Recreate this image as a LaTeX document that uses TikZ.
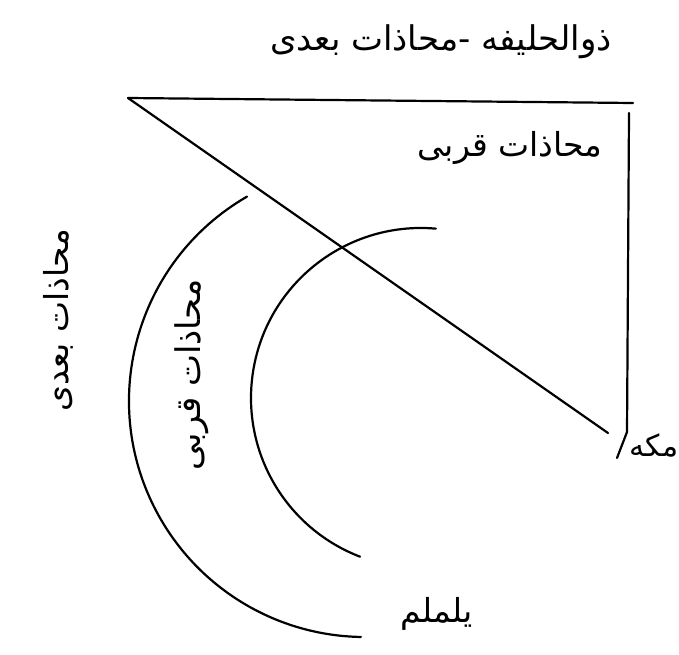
\documentclass[tikz,border=0pt]{standalone}
\usepackage{fontspec}
\newfontfamily\arabicfont[Script=Arabic]{DejaVu Sans}
\TeXXeTstate=1
\begin{document}
\begin{tikzpicture}[x=1pt,y=1pt,
  ln/.style={line width=2.2pt, line cap=round, line join=round},
  lbl/.style={font=\arabicfont\fontsize{33}{35}\selectfont, inner sep=0pt}]
\useasboundingbox[fill=white] (0,0) rectangle (679,654);
% key points
\coordinate (A) at (128,556);
\coordinate (T) at (633,551);
\coordinate (V1) at (629,541);
\coordinate (V2) at (627,222);
\coordinate (V3) at (617,196);
\coordinate (D) at (608,221);
\coordinate (OC) at (365,253);
\coordinate (IC) at (421,256);
% lines
\draw[ln] (A) -- (T);
\draw[ln] (A) -- (D);
\draw[ln] (V1) -- (V2) -- (V3);
% arcs
\draw[ln] (OC) ++(120:236) arc[start angle=120, end angle=269, radius=236];
\draw[ln] (IC) ++(85:170) arc[start angle=85, end angle=249, radius=170];
% labels
\node[lbl, font=\arabicfont\fontsize{34}{36}\selectfont] (top) at (441,612) {\beginR ذوالحلیفه -محاذات بعدی\endR};
\node[lbl] (qurb) at (510,506) {\beginR محاذات قربی\endR};
\node[lbl, rotate=90, font=\arabicfont\fontsize{34}{36}\selectfont] (qurbv) at (192,279) {\beginR محاذات قربی\endR};
\node[lbl, rotate=90] (budv) at (58,334) {\beginR محاذات بعدی\endR};
\node[lbl, font=\arabicfont\fontsize{30}{32}\selectfont] (makka) at (654,209) {\beginR مکه\endR};
\node[lbl] (yalam) at (437,40) {\beginR یلملم\endR};
\end{tikzpicture}
\end{document}
